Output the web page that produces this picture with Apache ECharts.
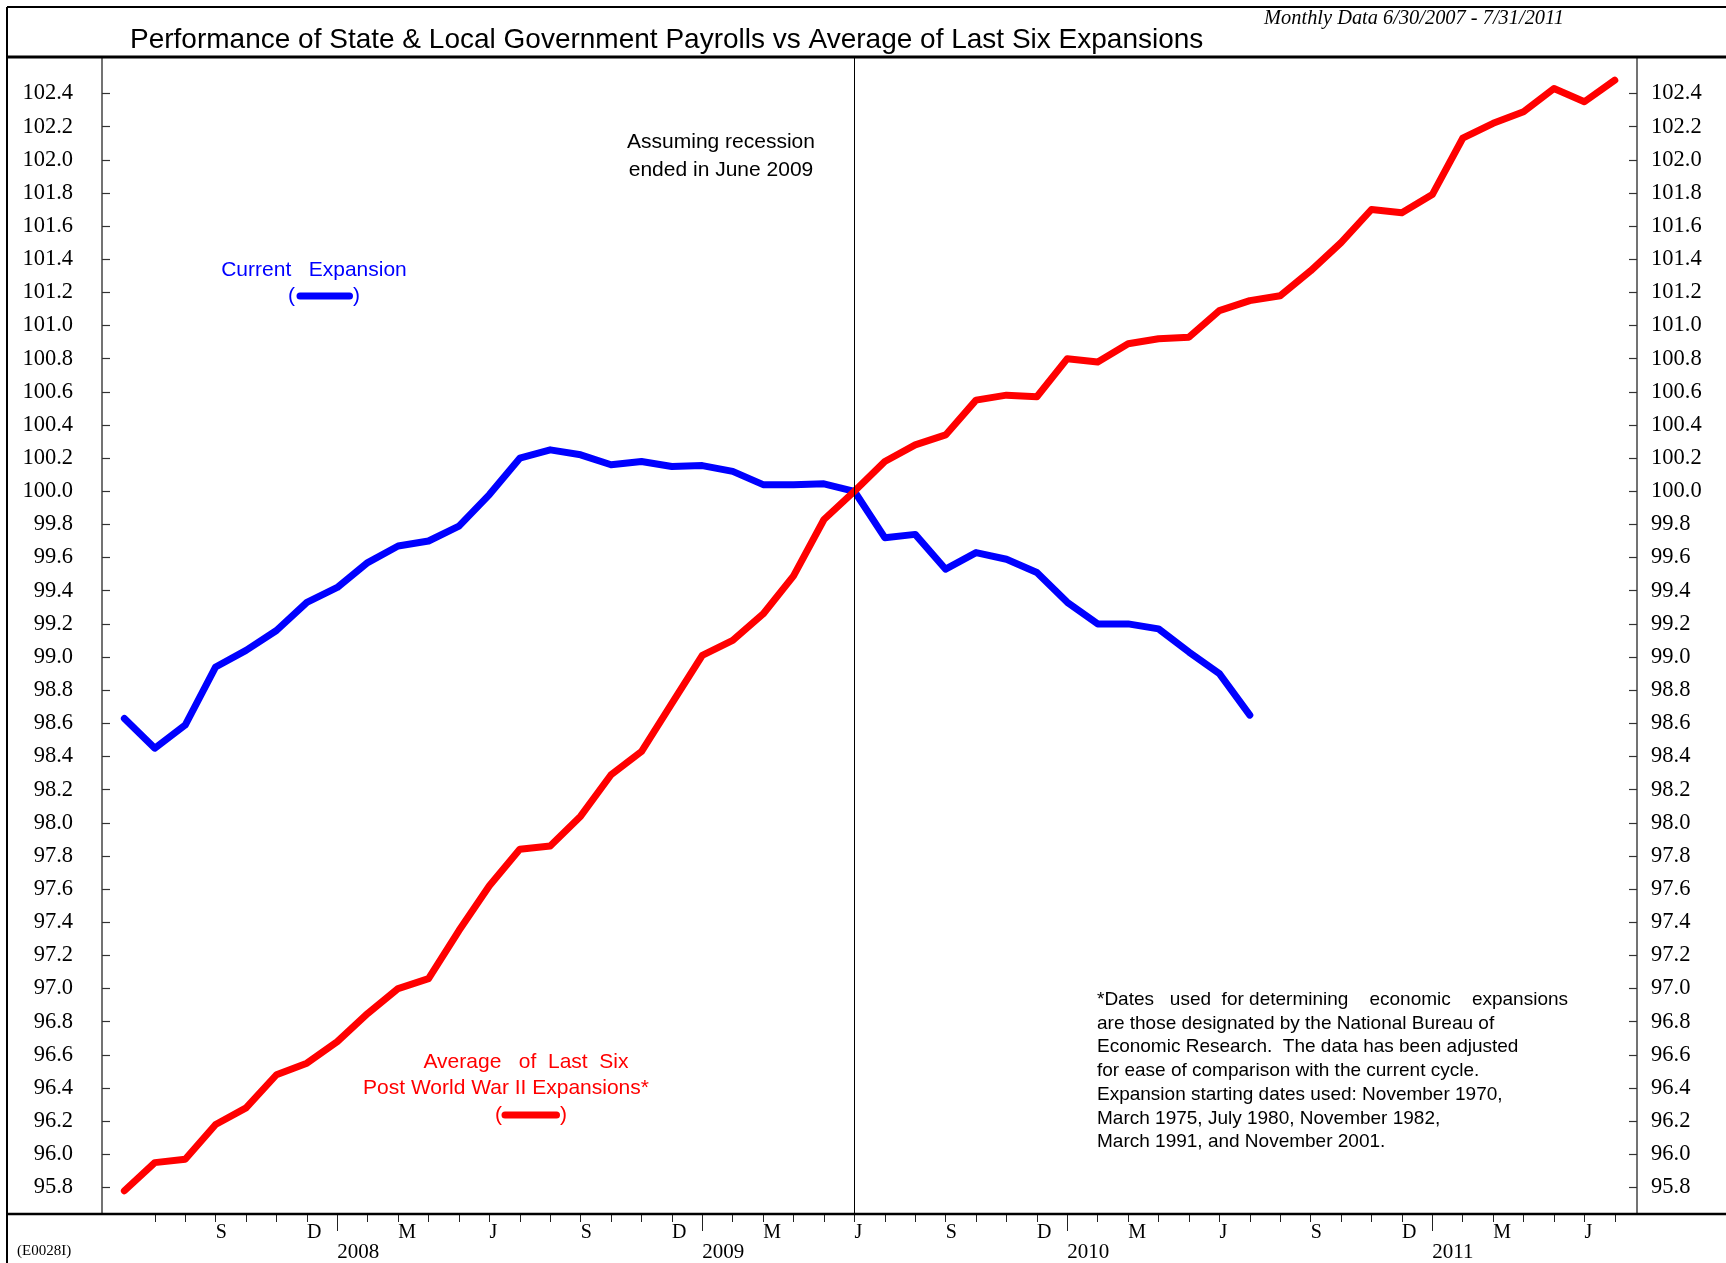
<!DOCTYPE html>
<html><head><meta charset="utf-8">
<script src="https://cdn.jsdelivr.net/npm/echarts@6/dist/echarts.min.js"></script>
<style>html,body{margin:0;padding:0;background:#fff}#c{width:1726px;height:1263px}</style>
</head><body><div id="c"></div>
<script>
// Monthly index 0 = Jun 2007 ... 49 = Jul 2011
const currentExpansion = [98.63, 98.45, 98.59, 98.94, 99.04, 99.16, 99.33, 99.42, 99.57, 99.67,
  99.70, 99.79, 99.98, 100.20, 100.25, 100.22, 100.16, 100.18, 100.15, 100.155,
  100.12, 100.04, 100.04, 100.045, 100.00, 99.72, 99.74, 99.53, 99.63, 99.59,
  99.51, 99.33, 99.20, 99.20, 99.17, 99.03, 98.90, 98.65];
const avgLastSix = [95.78, 95.95, 95.97, 96.18, 96.28, 96.48, 96.55, 96.68, 96.85, 97.00,
  97.06, 97.35, 97.62, 97.84, 97.86, 98.04, 98.29, 98.43, 98.72, 99.01,
  99.10, 99.26, 99.49, 99.83, 100.00, 100.18, 100.28, 100.34, 100.55, 100.58,
  100.57, 100.80, 100.78, 100.89, 100.92, 100.93, 101.09, 101.15, 101.18, 101.33,
  101.50, 101.70, 101.68, 101.79, 102.13, 102.22, 102.29, 102.43, 102.35, 102.48];
const yTicks = [95.8, 96.0, 96.2, 96.4, 96.6, 96.8, 97.0, 97.2, 97.4, 97.6, 97.8, 98.0,
  98.2, 98.4, 98.6, 98.8, 99.0, 99.2, 99.4, 99.6, 99.8, 100.0, 100.2, 100.4, 100.6,
  100.8, 101.0, 101.2, 101.4, 101.6, 101.8, 102.0, 102.2, 102.4];
const monthLabelIdx = [3, 6, 9, 12, 15, 18, 21, 24, 27, 30, 33, 36, 39, 42, 45, 48];
const monthLabelText = ['S','D','M','J','S','D','M','J','S','D','M','J','S','D','M','J'];
const yearStartIdx = [7, 19, 31, 43];
const yearLabels = ['2008', '2009', '2010', '2011'];
const recessionEndIdx = 24;
const monthTickIdx = Array.from({length: 49}, (_, i) => i + 1);

const SERIF = '"Liberation Serif", "Times New Roman", serif';
const SANS = '"Liberation Sans", Arial, sans-serif';

const chart = echarts.init(document.getElementById('c'), null, {renderer: 'canvas'});

const yAxisBase = {
  type: 'value', min: 95.646, max: 102.62,
  axisLine: {show: true, onZero: false, lineStyle: {color: '#444', width: 1.5}},
  axisTick: {show: true, inside: true, length: 8, customValues: yTicks, lineStyle: {color: '#333', width: 1.2}},
  splitLine: {show: false},
};
const xAxisBase = {
  type: 'value', min: -0.736, max: 49.73, position: 'bottom',
  axisLine: {show: false, onZero: false},
  splitLine: {show: false}
};

const option = {
  backgroundColor: '#fff',
  animation: false,
  grid: {left: 102, right: 89, top: 57, bottom: 49, containLabel: false},
  xAxis: [
    Object.assign({}, xAxisBase, {
      axisTick: {show: true, length: 9, customValues: monthTickIdx, lineStyle: {color: '#222', width: 1}},
      axisLabel: {show: true, customValues: monthLabelIdx, margin: 10, align: 'left',
        fontFamily: SERIF, fontSize: 20, color: '#000',
        formatter: v => monthLabelText[monthLabelIdx.indexOf(Math.round(v))] || ''}
    }),
    Object.assign({}, xAxisBase, {
      axisTick: {show: true, length: 18, customValues: yearStartIdx, lineStyle: {color: '#222', width: 1}},
      axisLabel: {show: true, customValues: yearStartIdx, margin: 29, align: 'left',
        fontFamily: SERIF, fontSize: 21, color: '#000',
        formatter: v => yearLabels[yearStartIdx.indexOf(Math.round(v))] || ''}
    })
  ],
  yAxis: [
    Object.assign({}, yAxisBase, {position: 'left',
      axisLabel: {customValues: yTicks, margin: 29, fontFamily: SERIF, fontSize: 22.5, color: '#000',
        formatter: v => v.toFixed(1)}}),
    Object.assign({}, yAxisBase, {position: 'right',
      axisLabel: {customValues: yTicks, margin: 14, fontFamily: SERIF, fontSize: 22.5, color: '#000',
        formatter: v => v.toFixed(1)}})
  ],
  series: [
    {
      name: 'Current Expansion', type: 'line', xAxisIndex: 0, yAxisIndex: 0,
      data: currentExpansion.map((v, i) => [i, v]),
      symbol: 'none', lineStyle: {color: '#0000ff', width: 7, cap: 'round', join: 'round'},
      markLine: {silent: true, symbol: 'none', label: {show: false},
        lineStyle: {color: '#000', width: 1, type: 'solid'},
        data: [{xAxis: recessionEndIdx}]},
      z: 3
    },
    {
      name: 'Average of Last Six Post World War II Expansions', type: 'line', xAxisIndex: 0, yAxisIndex: 0,
      data: avgLastSix.map((v, i) => [i, v]),
      symbol: 'none', lineStyle: {color: '#ff0000', width: 7, cap: 'round', join: 'round'},
      z: 4
    }
  ],
  graphic: [
    {type: 'line', shape: {x1: 7, y1: 7, x2: 1726, y2: 7}, style: {stroke: '#000', lineWidth: 2}, z: 10},
    {type: 'line', shape: {x1: 7, y1: 7, x2: 7, y2: 1263}, style: {stroke: '#000', lineWidth: 2}, z: 10},
    {type: 'line', shape: {x1: 7, y1: 57, x2: 1726, y2: 57}, style: {stroke: '#000', lineWidth: 3}, z: 10},
    {type: 'line', shape: {x1: 7, y1: 1214, x2: 1726, y2: 1214}, style: {stroke: '#000', lineWidth: 2.5}, z: 10},
    {type: 'text', x: 130, y: 40, style: {text: 'Performance of State & Local Government Payrolls vs Average of Last Six Expansions',
      font: '28px ' + SANS, fill: '#000', textAlign: 'left', textVerticalAlign: 'middle', align: 'left', verticalAlign: 'middle'}},
    {type: 'text', x: 1414, y: 18.5, style: {text: 'Monthly Data 6/30/2007 - 7/31/2011',
      font: 'italic 20.4px ' + SERIF, fill: '#000', textAlign: 'center', textVerticalAlign: 'middle', align: 'center', verticalAlign: 'middle'}},
    {type: 'text', x: 721, y: 127.5, style: {text: 'Assuming recession\nended in June 2009', lineHeight: 28.5,
      font: '21px ' + SANS, fill: '#000', textAlign: 'center', textVerticalAlign: 'top', align: 'center', verticalAlign: 'top'}},
    {type: 'text', x: 314, y: 270, style: {text: 'Current   Expansion',
      font: '21px ' + SANS, fill: '#0000ff', textAlign: 'center', textVerticalAlign: 'middle', align: 'center', verticalAlign: 'middle'}},
    {type: 'text', x: 288, y: 296, style: {text: '(', font: '21px ' + SANS, fill: '#0000ff', textAlign: 'left', textVerticalAlign: 'middle', align: 'left', verticalAlign: 'middle'}},
    {type: 'text', x: 360, y: 296, style: {text: ')', font: '21px ' + SANS, fill: '#0000ff', textAlign: 'right', textVerticalAlign: 'middle', align: 'right', verticalAlign: 'middle'}},
    {type: 'line', shape: {x1: 300, y1: 296, x2: 349.5, y2: 296}, style: {stroke: '#0000ff', lineWidth: 7, lineCap: 'round'}},
    {type: 'text', x: 526, y: 1062.5, style: {text: 'Average   of  Last  Six',
      font: '21px ' + SANS, fill: '#ff0000', textAlign: 'center', textVerticalAlign: 'middle', align: 'center', verticalAlign: 'middle'}},
    {type: 'text', x: 506, y: 1088, style: {text: 'Post World War II Expansions*',
      font: '21px ' + SANS, fill: '#ff0000', textAlign: 'center', textVerticalAlign: 'middle', align: 'center', verticalAlign: 'middle'}},
    {type: 'text', x: 495, y: 1115, style: {text: '(', font: '21px ' + SANS, fill: '#ff0000', textAlign: 'left', textVerticalAlign: 'middle', align: 'left', verticalAlign: 'middle'}},
    {type: 'text', x: 567, y: 1115, style: {text: ')', font: '21px ' + SANS, fill: '#ff0000', textAlign: 'right', textVerticalAlign: 'middle', align: 'right', verticalAlign: 'middle'}},
    {type: 'line', shape: {x1: 505, y1: 1115, x2: 556.5, y2: 1115}, style: {stroke: '#ff0000', lineWidth: 7, lineCap: 'round'}},
    {type: 'text', x: 1097, y: 988, style: {text:
      '*Dates   used  for determining    economic    expansions\n' +
      'are those designated by the National Bureau of\n' +
      'Economic Research.  The data has been adjusted\n' +
      'for ease of comparison with the current cycle.\n' +
      'Expansion starting dates used: November 1970,\n' +
      'March 1975, July 1980, November 1982,\n' +
      'March 1991, and November 2001.',
      lineHeight: 23.7, font: '19px ' + SANS, fill: '#000', textAlign: 'left', textVerticalAlign: 'top', align: 'left', verticalAlign: 'top'}},
    {type: 'text', x: 17, y: 1251, style: {text: '(E0028I)', font: '15px ' + SERIF, fill: '#000', textAlign: 'left', textVerticalAlign: 'middle', align: 'left', verticalAlign: 'middle'}}
  ]
};
chart.setOption(option);
</script>
</body></html>
